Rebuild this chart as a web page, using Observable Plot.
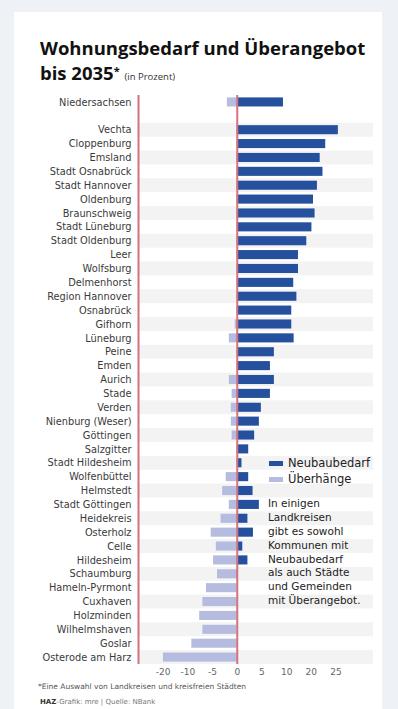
<!DOCTYPE html>
<html>
<head>
<meta charset="utf-8">
<script src="https://cdn.jsdelivr.net/npm/d3@7"></script>
<script src="https://cdn.jsdelivr.net/npm/@observablehq/plot@0.6"></script>
<style>
  html, body { margin: 0; padding: 0; }
  body { width: 398px; height: 709px; background: #eef1f5; position: relative; overflow: hidden; font-family: "DejaVu Sans", sans-serif; }
  #card { position: absolute; left: 14px; top: 12px; width: 368px; height: 697px; background: #fff; }
  .abs { position: absolute; white-space: nowrap; }
  #t1 { left: 40px; top: 37px; font-family: "Open Sans", sans-serif; font-weight: 700; font-size: 18.5px; color: #111; line-height: 22px; }
  #t2 { left: 40px; top: 60px; font-family: "Open Sans", sans-serif; font-weight: 700; font-size: 18.5px; color: #111; line-height: 22px; }
  #t2 sup { font-size: 11px; vertical-align: 5px; }
  #t2 span { font-weight: 400; font-size: 9.5px; color: #333; }
  #chart { position: absolute; left: 0; top: 86px; }
  .leg { font-size: 11.5px; color: #222; }
  .sw { position: absolute; width: 14px; height: 5px; }
  #note { left: 268px; top: 497px; font-size: 10.5px; line-height: 13.88px; color: #222; }
  #foot1 { left: 38px; top: 682px; font-size: 7.5px; color: #555; }
  #foot2 { left: 40px; top: 698px; font-size: 7px; color: #777; }
</style>
</head>
<body>
<div id="card"></div>
<div class="abs" id="t1">Wohnungsbedarf und Überangebot</div>
<div class="abs" id="t2">bis 2035<sup>*</sup> <span>(in Prozent)</span></div>
<div id="chart"></div>
<div class="sw" style="left:269px; top:461px; background:#24509e"></div>
<div class="abs leg" style="left:288px; top:456px;">Neubaubedarf</div>
<div class="sw" style="left:269px; top:477px; background:#b5bce0"></div>
<div class="abs leg" style="left:288px; top:472px;">Überhänge</div>
<div class="abs" id="note">In einigen<br>Landkreisen<br>gibt es sowohl<br>Kommunen mit<br>Neubaubedarf<br>als auch Städte<br>und Gemeinden<br>mit Überangebot.</div>
<div class="abs" id="foot1">*Eine Auswahl von Landkreisen und kreisfreien Städten</div>
<div class="abs" id="foot2"><b style="color:#333">HAZ</b>-Grafik: mre | Quelle: NBank</div>
<script>
// ---- data ----
const stateName = "Niedersachsen";
const stateNeubau = 11.7;
const stateUeberhang = -2.5;

const regions = [
  "Vechta", "Cloppenburg", "Emsland", "Stadt Osnabrück", "Stadt Hannover",
  "Oldenburg", "Braunschweig", "Stadt Lüneburg", "Stadt Oldenburg", "Leer",
  "Wolfsburg", "Delmenhorst", "Region Hannover", "Osnabrück", "Gifhorn",
  "Lüneburg", "Peine", "Emden", "Aurich", "Stade",
  "Verden", "Nienburg (Weser)", "Göttingen", "Salzgitter", "Stadt Hildesheim",
  "Wolfenbüttel", "Helmstedt", "Stadt Göttingen", "Heidekreis", "Osterholz",
  "Celle", "Hildesheim", "Schaumburg", "Hameln-Pyrmont", "Cuxhaven",
  "Holzminden", "Wilhelmshaven", "Goslar", "Osterode am Harz"
];
const neubau = [
  25.6, 22.4, 21.0, 21.7, 20.3,
  19.3, 19.7, 18.9, 17.6, 15.5,
  15.5, 14.3, 15.1, 13.8, 13.8,
  14.4, 9.4, 8.4, 9.4, 8.4,
  6.1, 5.6, 4.4, 2.9, 1.2,
  2.9, 4.0, 5.6, 2.7, 4.1,
  1.4, 2.7, 0.3, 0, 0,
  0, 0, 0, 0
];
const ueberhang = [
  0, 0, 0, 0, 0,
  0, 0, 0, 0, 0,
  0, 0, 0, 0, -0.5,
  -2.0, 0, 0, -2.0, -1.3,
  -1.5, -1.5, -1.3, 0, 0,
  -2.8, -3.7, -2.0, -4.1, -6.6,
  -5.3, -6.0, -5.0, -7.8, -8.7,
  -9.5, -8.7, -11.5, -18.7
];
const tickLabels = ["-20", "-10", "-5", "0", "5", "10", "20", "25"];
const tickValues = [-18.75, -12.5, -6.25, 0, 6.25, 12.5, 18.75, 25];

// ---- build ----
const blank = " ";
const rowOrder = [stateName, blank, ...regions];
const table = [{name: stateName, neu: stateNeubau, ue: stateUeberhang}]
  .concat(regions.map((r, i) => ({name: r, neu: neubau[i], ue: ueberhang[i]})));
const stripes = regions.filter((r, i) => i % 2 === 0);
const tickMap = new Map(tickValues.map((v, i) => [v, tickLabels[i]]));

const chart = Plot.plot({
  width: 398,
  height: 598,
  marginLeft: 138,
  marginRight: 23,
  marginTop: 9,
  marginBottom: 20,
  style: {fontFamily: "DejaVu Sans, sans-serif", background: "transparent"},
  x: {domain: [-25, 35]},
  y: {domain: rowOrder, padding: 0},
  marks: [
    Plot.barX(stripes, {x1: () => -25, x2: () => 34.5, y: d => d, fill: "#f3f3f3"}),
    Plot.barX(table.filter(d => d.ue < 0), {x1: () => 0, x2: "ue", y: "name", fill: "#b5bce0", insetTop: 2.4, insetBottom: 2.4}),
    Plot.barX(table.filter(d => d.neu > 0), {x1: () => 0, x2: "neu", y: "name", fill: "#24509e", insetTop: 2.4, insetBottom: 2.4}),
    Plot.ruleX([-25, 0], {stroke: "#d4737f", strokeWidth: 2}),
    Plot.axisY({tickSize: 0, tickPadding: 7, fontSize: 9.8, fill: "#3a3a3a", label: null}),
    Plot.axisX({ticks: tickValues, tickFormat: d => tickMap.get(d), tickSize: 0, tickPadding: 4, fontSize: 9, fill: "#666", label: null})
  ]
});
document.getElementById("chart").appendChild(chart);
</script>
</body>
</html>
